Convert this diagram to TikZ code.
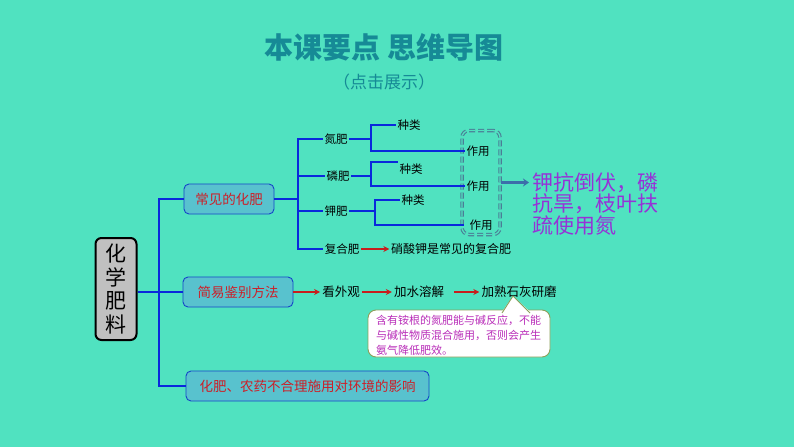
\documentclass[tikz,border=0pt]{standalone}
\usepackage{fontspec}
\setmainfont{Noto Sans CJK SC}
\usetikzlibrary{arrows.meta}
\definecolor{bg}{RGB}{80,226,192}
\definecolor{titlec}{RGB}{22,138,150}
\definecolor{linec}{RGB}{10,40,220}
\definecolor{boxfill}{RGB}{88,194,206}
\definecolor{boxdraw}{RGB}{20,70,200}
\definecolor{redt}{RGB}{205,30,40}
\definecolor{arrred}{RGB}{200,30,30}
\definecolor{purp}{RGB}{150,50,215}
\definecolor{magt}{RGB}{185,45,185}
\definecolor{notedraw}{RGB}{140,160,90}
\definecolor{dashc}{RGB}{75,125,150}
\definecolor{bigarr}{RGB}{60,110,170}
\definecolor{maingray}{RGB}{192,192,192}
\begin{document}
\begin{tikzpicture}[x=1pt,y=-1pt,
  conn/.style={draw=linec, line width=2.2pt},
  subln/.style={draw=linec, line width=2pt},
  branch/.style={draw=boxdraw, line width=0.9pt, fill=boxfill, rounded corners=5pt, text=redt, font=\fontsize{13.5}{15}\selectfont, inner sep=0pt},
  lbl/.style={inner sep=1.5pt, font=\fontsize{11.5}{13}\selectfont, text=black},
  flow/.style={inner sep=2pt, font=\fontsize{12.5}{14}\selectfont, text=black},
  redarr/.style={draw=arrred, line width=1.6pt, -{Stealth[length=6pt,width=6pt]}},
]
\fill[bg] (0,0) rectangle (794,447);
\useasboundingbox (0,0) rectangle (794,447);

% title
\node[text=titlec, font=\fontsize{29}{31}\selectfont\bfseries] (title) at (384,47) {本课要点 思维导图};
\node[text=titlec, font=\fontsize{17}{19}\selectfont] (subt) at (384,82) {（点击展示）};

% main node
\node[draw=black, line width=2pt, fill=maingray, rounded corners=6pt, minimum width=41pt, minimum height=102pt, align=center, font=\fontsize{21}{23.5}\selectfont, inner sep=0pt] (main) at (116,289) {化\\学\\肥\\料};

% branch boxes
\node[branch, minimum width=90pt, minimum height=30pt] (b1) at (229,199) {常见的化肥};
\node[branch, minimum width=110pt, minimum height=30pt] (b2) at (238,292) {简易鉴别方法};
\node[branch, minimum width=243pt, minimum height=30pt] (b3) at (307.5,386) {化肥、农药不合理施用对环境的影响};

% trunk
\coordinate (jt) at (159,292);
\draw[conn] (main.east |- jt) -- (jt);
\draw[conn] (jt) |- (b1.west);
\draw[conn] (jt) -- (b2.west);
\draw[conn] (jt) |- (b3.west);

% level 2 labels
\node[lbl] (n1) at (336,139) {氮肥};
\node[lbl] (n2) at (338,176) {磷肥};
\node[lbl] (n3) at (336,211) {钾肥};
\node[lbl] (n4) at (342,249) {复合肥};
\coordinate (j1) at (298,199);
\draw[subln] (b1.east) -- (j1);
\draw[subln] (j1) |- (n1.west);
\draw[subln] (j1) |- (n2.west);
\draw[subln] (j1) |- (n3.west);
\draw[subln] (j1) |- (n4.west);

% dashed group
\node[draw=dashc, dash pattern=on 6pt off 3pt, double=bg, double distance=1.3pt, line width=1.1pt, rounded corners=7pt, minimum width=38pt, minimum height=104pt, inner sep=0pt] (grp) at (481,182.5) {};

% level 3
\node[lbl] (t1) at (409,125) {种类};
\node[lbl] (u1) at (478,151) {作用};
\node[lbl] (t2) at (411,169) {种类};
\node[lbl] (u2) at (478,186) {作用};
\node[lbl] (t3) at (413,200) {种类};
\node[lbl, inner xsep=5pt] (u3) at (481,225) {作用};
\coordinate (k1) at (371,139);
\coordinate (k2) at (371,176);
\coordinate (k3) at (375,211);
\draw[subln] (n1.east) -- (k1);
\draw[subln] (k1) |- (t1.west);
\draw[subln] (k1) |- (u1.west);
\draw[subln] (n2.east) -- (k2);
\draw[subln] (k2) |- (t2.north west);
\draw[subln] (k2) |- (u2.west);
\draw[subln] (n3.east) -- (k3);
\draw[subln] (k3) |- (t3.west);
\draw[subln] (k3) |- (u3.west);

% compound fertilizer
\node[lbl, font=\fontsize{12}{13}\selectfont] (h1) at (451,249) {硝酸钾是常见的复合肥};
\draw[redarr] (n4.east) -- (h1.west);

% effect text
\node[text=purp, align=left, anchor=north west, font=\fontsize{21}{21.5}\selectfont, inner sep=0pt] (eff) at (532,172) {钾抗倒伏，磷\\抗旱，枝叶扶\\疏使用氮};
\draw[draw=bigarr, line width=2.6pt, -{Stealth[length=6pt,width=8pt]}, shorten >=3pt] (grp.east) -- (grp.east -| eff.west);

% identification flow
\node[flow] (g1) at (341,292) {看外观};
\node[flow] (g2) at (419,292) {加水溶解};
\node[flow] (g3) at (519,292) {加熟石灰研磨};
\draw[redarr] (b2.east) -- (g1.west);
\draw[redarr] (g1.east) -- (g2.west);
\draw[redarr] ([xshift=8pt]g2.east) -- (g3.west);

% callout
\node[draw=notedraw, line width=0.9pt, fill=white, rounded corners=8pt, minimum width=182pt, minimum height=47pt, inner sep=0pt] (note) at (459,333.5) {};
\coordinate (tipa) at (502,311.8);
\coordinate (tipb) at (513,296);
\coordinate (tipc) at (530,311.8);
\fill[white] (tipa) -- (tipb) -- (tipc) -- cycle;
\draw[draw=notedraw, line width=0.9pt, line join=round] ([yshift=-1.2pt]tipa) -- (tipb) -- ([yshift=-1.2pt]tipc);
\node[text=magt, align=left, anchor=west, font=\fontsize{11}{15}\selectfont, inner sep=0pt] (notetxt) at (376,335) {含有铵根的氮肥能与碱反应，不能\\与碱性物质混合施用，否则会产生\\氨气降低肥效。};
\end{tikzpicture}
\end{document}
